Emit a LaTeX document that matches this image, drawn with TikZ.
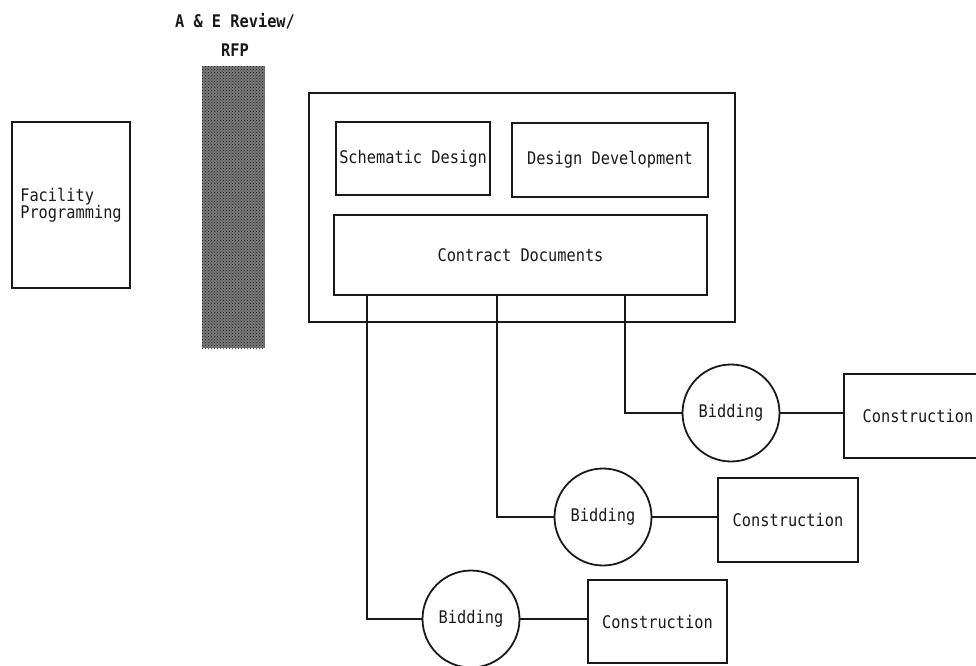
\documentclass[tikz,border=0pt]{standalone}
\usepackage{fontspec}
\setmonofont[FakeStretch=0.88]{DejaVu Sans Mono}
\usetikzlibrary{patterns}

\begin{document}
\begin{tikzpicture}[x=1pt, y=-1pt,
  ink/.style={draw=black!90, line width=1.8pt},
  lbl/.style={font=\ttfamily\fontsize{17.4}{17}\selectfont, text=black!90},
  box/.style={ink, lbl, rectangle, inner sep=0pt},
  bid/.style={ink, lbl, circle, inner sep=0pt, minimum size=97pt},
  wire/.style={ink, line cap=rect}
]
\clip (0,0) rectangle (976,665);

% programming phase
\node[box, align=left, minimum width=118pt, minimum height=166pt] (fp) at (71,205)
  {Facility\\Programming};

% A & E review / RFP band
\node[lbl, font=\ttfamily\bfseries\fontsize{17.4}{17}\selectfont] (aetitle) at (235,21) {A \& E Review/};
\node[lbl, font=\ttfamily\bfseries\fontsize{17.4}{17}\selectfont] (rfp) at (235,50) {RFP};
\fill[black!52] (202,66) rectangle (265,348);
\fill[pattern=crosshatch dots, pattern color=black!90] (202,66) rectangle (265,348);

% design phase group
\node[box, minimum width=426pt, minimum height=229pt] (design) at (522,207.5) {};
\node[box, minimum width=154pt, minimum height=73pt] (sd) at (413,158.5) {Schematic Design};
\node[box, minimum width=196pt, minimum height=74pt] (dd) at (610,160) {Design Development};
\node[box, minimum width=373pt, minimum height=80pt] (cd) at (520.5,255) {Contract Documents};

% bidding and construction packages
\node[bid] (bid1) at (731,413) {Bidding};
\node[bid] (bid2) at (603,517) {Bidding};
\node[bid] (bid3) at (471,619) {Bidding};

\node[box, minimum width=148pt, minimum height=84pt] (con1) at (918,416) {Construction};
\node[box, minimum width=140pt, minimum height=84pt] (con2) at (788,520) {Construction};
\node[box, minimum width=139pt, minimum height=83pt] (con3) at (657.5,621.5) {Construction};

% tap points along the bottom of the contract documents
\coordinate (tap1) at (625,0);
\coordinate (tap2) at (497,0);
\coordinate (tap3) at (367,0);

\draw[wire] (cd.south -| tap1) |- (bid1.west);
\draw[wire] (cd.south -| tap2) |- (bid2.west);
\draw[wire] (cd.south -| tap3) |- (bid3.west);

\draw[wire] (bid1.east) -- (bid1.east -| con1.west);
\draw[wire] (bid2.east) -- (bid2.east -| con2.west);
\draw[wire] (bid3.east) -- (bid3.east -| con3.west);
\end{tikzpicture}
\end{document}
